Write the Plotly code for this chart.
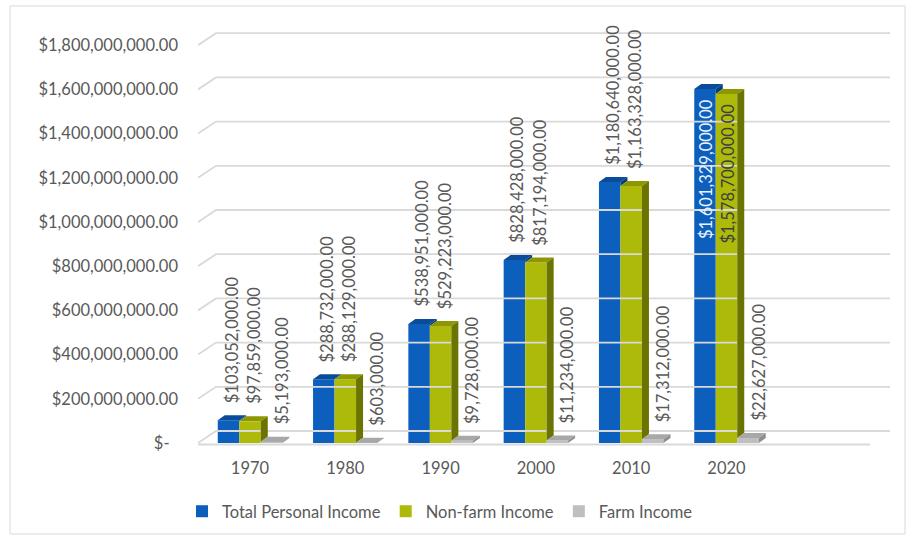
import plotly.graph_objects as go

# ---- data ----
years = ["1970", "1980", "1990", "2000", "2010", "2020"]
total_income = [103052000, 288732000, 538951000, 828428000, 1180640000, 1601329000]
nonfarm_income = [97859000, 288129000, 529223000, 817194000, 1163328000, 1578700000]
farm_income = [5193000, 603000, 9728000, 11234000, 17312000, 22627000]
series_names = ["Total Personal Income", "Non-farm Income", "Farm Income"]
y_ticks = [0, 200e6, 400e6, 600e6, 800e6, 1000e6, 1200e6, 1400e6, 1600e6, 1800e6]

# ---- styling / geometry ----
W, H = 914, 537
ML, MR, MT, MB = 198, 22, 10, 82
PW, PH = W - ML - MR, H - MT - MB
PX_PER_CAT = 95.3                 # pixels per category step
PX_PER_DOLLAR = 44.2 / 200e6      # pixels per dollar
X0_PX = 250                       # pixel of first category centre
ZERO_PX = 443                     # pixel of value zero

xmin = -(X0_PX - ML) / PX_PER_CAT
xmax = xmin + PW / PX_PER_CAT
ymin = -((MT + PH) - ZERO_PX) / PX_PER_DOLLAR
ymax = ymin + PH / PX_PER_DOLLAR


def ux(px):
    return px / PX_PER_CAT


def uy(px):
    return px / PX_PER_DOLLAR


BAR_W = ux(21.5)
DEPTH_X, DEPTH_Y = ux(7), uy(5)         # bar depth
WALL_X, WALL_Y = ux(18), uy(12)         # back-wall offset

TEXT = "#595959"
FONT = "Lato, 'Open Sans', sans-serif"
FS = 16.5
front_cols = ["#0C5FBC", "#AEBA0A", "#BFBFBF"]
top_cols = ["#0A4C99", "#8D9800", "#A8A8A8"]
side_cols = ["#083E7E", "#6B7400", "#8E8E8E"]
label_cols = ["#EAF3FF", "#3F3F3F", TEXT]
label_xshift = [3, 4, 10]

values = [total_income, nonfarm_income, farm_income]
xpos = list(range(len(years)))


def money(v):
    return f"${v:,.2f}"


fig = go.Figure()

# back-wall gridlines with the diagonal floor/side segment, plus front floor edge
gx, gy = [], []
for v in y_ticks:
    gx += [xmin, xmin + WALL_X, xmax - ux(2), None]
    gy += [v, v + WALL_Y, v + WALL_Y, None]
gx += [xmin, xmin + ux(672)]
gy += [-uy(1.5), -uy(1.5)]
fig.add_trace(go.Scatter(x=gx, y=gy, mode="lines", line=dict(color="#D9D9D9", width=1.8),
                         hoverinfo="skip", showlegend=False, cliponaxis=False))

# front faces as bars
for i, name in enumerate(series_names):
    fig.add_trace(go.Bar(
        x=xpos, y=values[i], name=name, width=BAR_W,
        offset=-1.5 * BAR_W + i * BAR_W,
        marker=dict(color=front_cols[i], line=dict(width=0)),
        hovertemplate="%{y:$,.2f}<extra>" + name + "</extra>",
    ))

# top and side faces give the bars depth
for i in range(3):
    tx, ty, sx, sy = [], [], [], []
    for k, v in enumerate(values[i]):
        x0 = k - 1.5 * BAR_W + i * BAR_W
        x1 = x0 + BAR_W
        tx += [x0, x1, x1 + DEPTH_X, x0 + DEPTH_X, x0, None]
        ty += [v, v, v + DEPTH_Y, v + DEPTH_Y, v, None]
        lo = values[i + 1][k] if i < 2 else 0
        if v > lo:
            sx += [x1, x1, x1 + DEPTH_X, x1 + DEPTH_X, x1, None]
            sy += [lo, v, v + DEPTH_Y, lo + DEPTH_Y, lo, None]
    fig.add_trace(go.Scatter(x=tx, y=ty, mode="lines", fill="toself", fillcolor=top_cols[i],
                             line=dict(width=0, color=top_cols[i]), hoverinfo="skip",
                             showlegend=False))
    if sx:
        fig.add_trace(go.Scatter(x=sx, y=sy, mode="lines", fill="toself", fillcolor=side_cols[i],
                                 line=dict(width=0, color=side_cols[i]), hoverinfo="skip",
                                 showlegend=False))

# rotated value labels (inside the bar when there is no room above it)
annotations = []
for i in range(3):
    for k, v in enumerate(values[i]):
        inside = (v + uy(160)) > ymax
        annotations.append(dict(
            x=k - 1.5 * BAR_W + (i + 0.5) * BAR_W, y=v, xref="x", yref="y",
            text=money(v), textangle=-90, showarrow=False,
            xanchor="center", yanchor="top" if inside else "bottom",
            yshift=-8 if inside else 15, xshift=label_xshift[i] - (2 if inside else 0),
            font=dict(family=FONT, size=FS, color=label_cols[i] if inside else TEXT),
        ))

# light frame around the chart
def paper_x(px):
    return (px - ML) / PW


def paper_y(py):
    return (MT + PH - py) / PH


fig.update_layout(
    width=W, height=H,
    margin=dict(l=ML, r=MR, t=MT, b=MB, autoexpand=False),
    paper_bgcolor="white", plot_bgcolor="white",
    font=dict(family=FONT, size=FS, color=TEXT),
    barmode="overlay",
    annotations=annotations,
    shapes=[dict(type="rect", xref="paper", yref="paper",
                 x0=paper_x(10), x1=paper_x(905), y0=paper_y(534), y1=paper_y(6),
                 line=dict(color="#D9D9D9", width=1), layer="below")],
    xaxis=dict(range=[xmin, xmax], tickmode="array", tickvals=xpos, ticktext=years,
               showgrid=False, zeroline=False, showline=False, ticks="",
               ticklabelstandoff=1, tickfont=dict(size=FS, color=TEXT)),
    yaxis=dict(range=[ymin, ymax], tickmode="array", tickvals=y_ticks,
               ticktext=[money(v) if v else "$-\u00a0\u00a0" for v in y_ticks],
               showgrid=False, zeroline=False, showline=False, ticks="",
               ticklabelstandoff=19, tickfont=dict(size=FS, color=TEXT)),
    legend=dict(orientation="h", x=paper_x(182), xanchor="left",
                y=paper_y(494), yanchor="top", font=dict(size=FS, color=TEXT),
                bgcolor="rgba(0,0,0,0)", traceorder="normal"),
)

fig.write_html("out.html")
